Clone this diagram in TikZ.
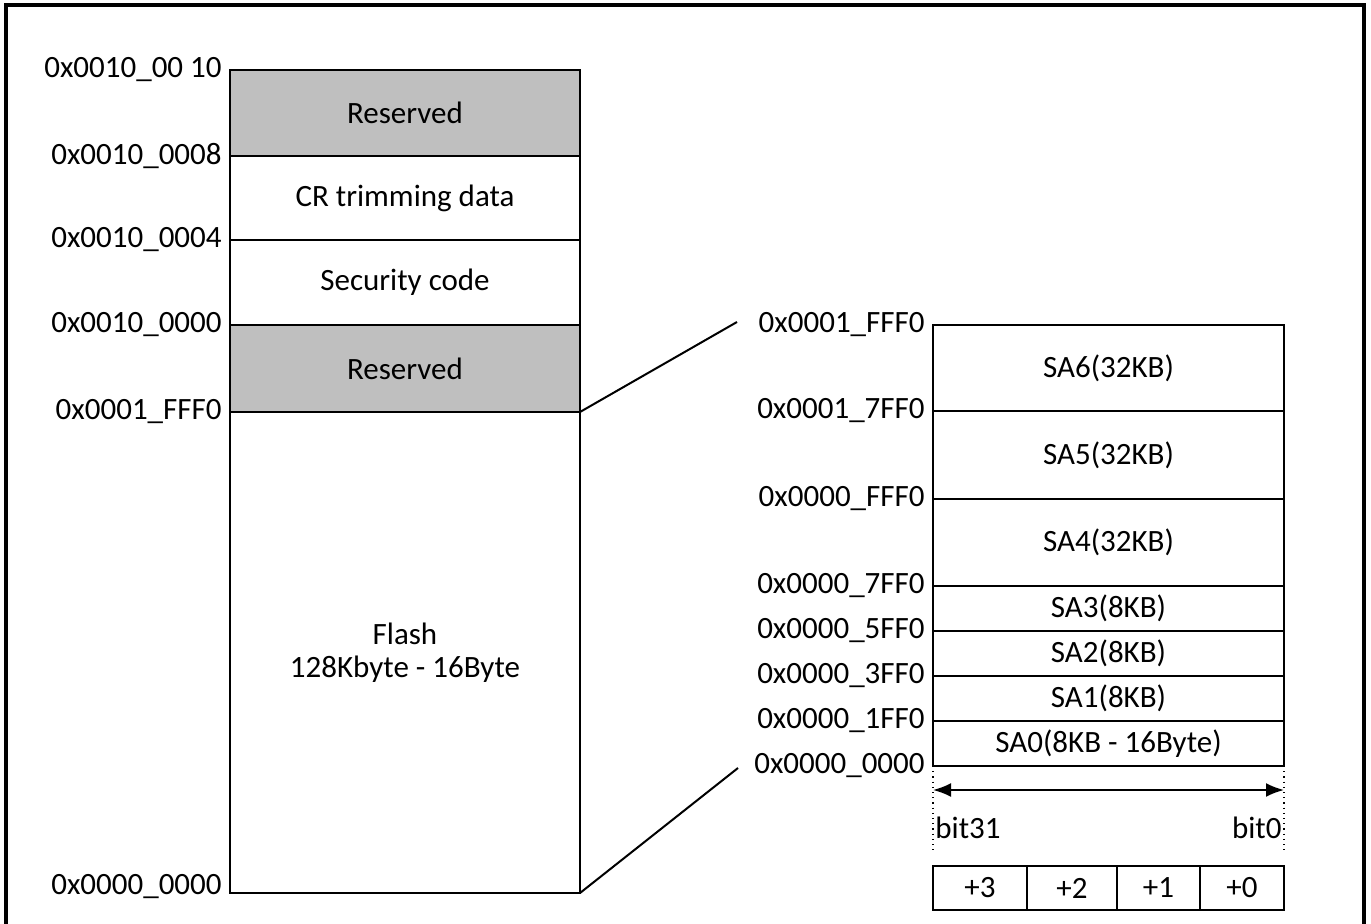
\documentclass[tikz,border=0pt]{standalone}
\usepackage{fontspec}
\setmainfont{Carlito}
\usetikzlibrary{positioning,arrows.meta}

\tikzset{
  cell/.style={draw,line width=1pt,outer sep=0pt,inner sep=0pt,minimum width=175pt,anchor=north west},
  sector/.style={cell,minimum width=175.5pt},
  bytebox/.style={draw,line width=1pt,outer sep=0pt,inner sep=0pt,minimum height=22pt,anchor=north west},
  addr/.style={inner sep=0pt},
}
\definecolor{resgray}{gray}{0.75}

\begin{document}
\begin{tikzpicture}[x=0.5pt,y=-0.5pt, every node/.style={font=\fontsize{15.5}{16.5}\selectfont}]
\useasboundingbox (0,0) rectangle (1371,924);
\draw[line width=2pt] (6,930) -- (6,5) -- (1364,5) -- (1364,930);

% left map
\node[cell,fill=resgray,minimum height=43pt] (res1) at (230,70) {Reserved};
\node[cell,minimum height=42pt,below=0pt of res1]  (crt) {CR trimming data};
\node[cell,minimum height=42.5pt,below=0pt of crt] (sec) {Security code};
\node[cell,fill=resgray,minimum height=43.5pt,below=0pt of sec] (res2) {Reserved};
\node[cell,minimum height=240.5pt,below=0pt of res2,align=center] (flash) {Flash\\128Kbyte - 16Byte};

\node[addr] (a1) [left=4pt of res1.north west]  {0x0010\_00 10};
\node[addr] (a2) [left=4pt of crt.north west]   {0x0010\_0008};
\node[addr] (a3) [left=4pt of sec.north west]   {0x0010\_0004};
\node[addr] (a4) [left=4pt of res2.north west]  {0x0010\_0000};
\node[addr] (a5) [left=4pt of flash.north west] {0x0001\_FFF0};
\node[addr] (a6) [left=4pt of flash.south west,yshift=3pt] {0x0000\_0000};

% right map (sectors)
\node[sector,minimum height=43pt] (sa6) at (933,325) {SA6(32KB)};
\node[sector,minimum height=44pt,below=0pt of sa6]   (sa5) {SA5(32KB)};
\node[sector,minimum height=43.5pt,below=0pt of sa5] (sa4) {SA4(32KB)};
\node[sector,minimum height=22.5pt,below=0pt of sa4] (sa3) {SA3(8KB)};
\node[sector,minimum height=22.5pt,below=0pt of sa3] (sa2) {SA2(8KB)};
\node[sector,minimum height=22.5pt,below=0pt of sa2] (sa1) {SA1(8KB)};
\node[sector,minimum height=22.5pt,below=0pt of sa1] (sa0) {SA0(8KB - 16Byte)};

\node[addr] (s6) [left=4pt of sa6.north west] {0x0001\_FFF0};
\node[addr] (s5) [left=4pt of sa5.north west] {0x0001\_7FF0};
\node[addr] (s4) [left=4pt of sa4.north west] {0x0000\_FFF0};
\node[addr] (s3) [left=4pt of sa3.north west] {0x0000\_7FF0};
\node[addr] (s2) [left=4pt of sa2.north west] {0x0000\_5FF0};
\node[addr] (s1) [left=4pt of sa1.north west] {0x0000\_3FF0};
\node[addr] (s0) [left=4pt of sa0.north west] {0x0000\_1FF0};
\node[addr] (sz) [left=4pt of sa0.south west] {0x0000\_0000};

% zoom lines
\coordinate (zt) at (737,322);
\coordinate (zb) at (738,768);
\draw[line width=1pt] (res2.south east) -- (zt);
\draw[line width=1pt] (flash.south east) -- (zb);

% bit width
\coordinate[below=43.5pt of sa0.south west] (dl);
\coordinate[below=43.5pt of sa0.south east] (dr);
\coordinate[below=12pt of sa0.south west] (al);
\coordinate[below=12pt of sa0.south east] (ar);
\draw[dotted,line width=0.6pt] (sa0.south west) -- (dl);
\draw[dotted,line width=0.6pt] (sa0.south east) -- (dr);
\draw[line width=1pt,{Latex[length=9pt,width=7pt]}-{Latex[length=9pt,width=7pt]}] (al) -- (ar);
\node[inner sep=1pt,anchor=west] (b31) at ([yshift=-31pt]sa0.south west) {bit31};
\node[inner sep=1pt,anchor=east] (b0)  at ([yshift=-31pt]sa0.south east) {bit0};

% byte lanes
\node[bytebox,minimum width=47pt] (p3) at (933,866) {+3};
\node[bytebox,minimum width=45pt,right=0pt of p3] (p2) {+2};
\node[bytebox,minimum width=41.5pt,right=0pt of p2] (p1) {+1};
\node[bytebox,minimum width=42pt,right=0pt of p1] (p0) {+0};

\end{tikzpicture}
\end{document}
